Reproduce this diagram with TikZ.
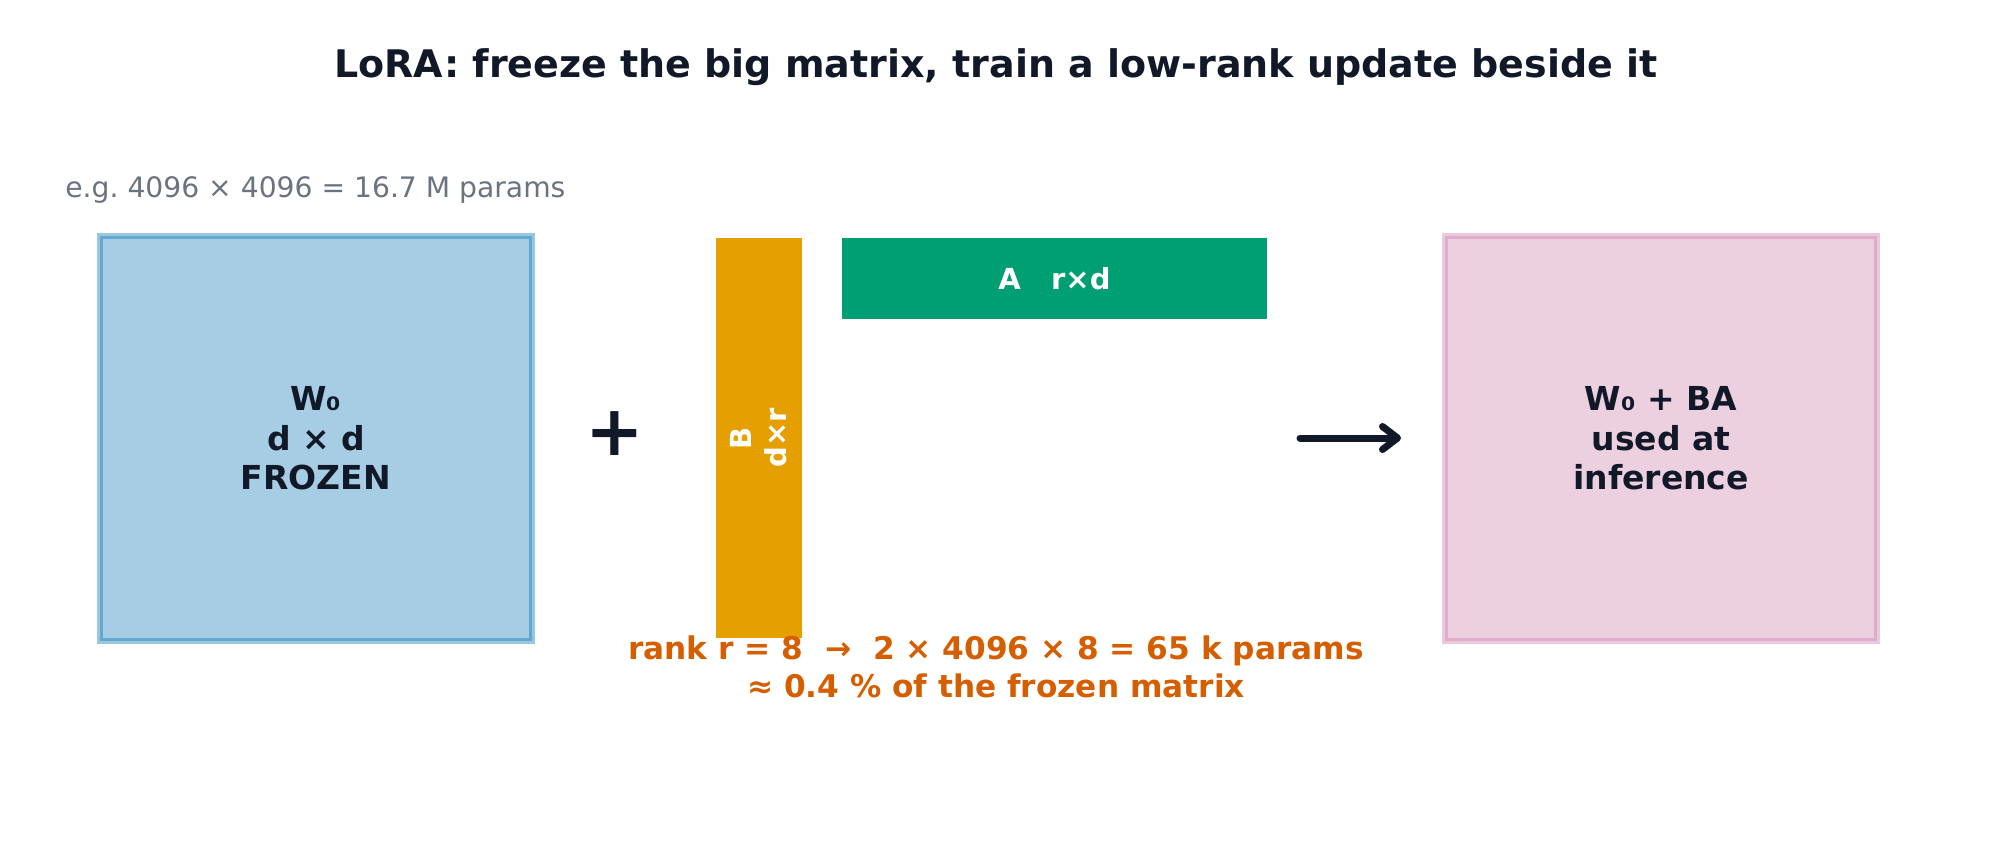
\documentclass[tikz,border=0pt]{standalone}
\usepackage{fontspec}
\setmainfont{DejaVu Sans}
\usetikzlibrary{arrows.meta}
\definecolor{ink}{HTML}{111827}
\definecolor{subgray}{HTML}{6B7280}
\definecolor{okorange}{HTML}{E69F00}
\definecolor{okgreen}{HTML}{009E73}
\definecolor{okverm}{HTML}{D55E00}
\definecolor{okblue}{HTML}{0072B2}
\definecolor{okpurple}{HTML}{CC79A7}
\definecolor{bluefill}{HTML}{A6CDE4}
\definecolor{pinkfill}{HTML}{EDD0E0}
\tikzset{
  bigbox/.style={rectangle, inner sep=0pt, minimum width=216pt, minimum height=202.5pt,
    line width=3pt, draw opacity=0.4, align=center, text=ink,
    font=\bfseries\fontsize{16.5pt}{19.8pt}\selectfont},
  lowrank/.style={rectangle, inner sep=0pt, text=white, align=center,
    font=\bfseries\fontsize{14.5pt}{17.4pt}\selectfont},
  conn/.style={draw=ink, line width=3.5pt, line cap=round,
    -{Straight Barb[length=7.5pt, width=11.5pt, line cap=round, line join=round]}},
}
\begin{document}
\frenchspacing
\begin{tikzpicture}[x=0.5pt, y=-0.5pt]
\useasboundingbox (0,0) rectangle (1992,862);
% title and subtitle
\node[anchor=base, text=ink, font=\bfseries\fontsize{19pt}{22.8pt}\selectfont, inner sep=0pt]
  (title) at (996,77) {LoRA: freeze the big matrix, train a low-rank update beside it};
\node[anchor=base west, text=subgray, font=\fontsize{14.1pt}{16.9pt}\selectfont, inner sep=0pt]
  (sub) at (65,197) {e.g. 4096 × 4096 = 16.7 M params};
% frozen matrix
\node[bigbox, fill=bluefill, draw=okblue] (W) at (316,438.5) {W₀\\d × d\\FROZEN};
% plus
\node[text=ink, font=\bfseries\fontsize{35pt}{40pt}\selectfont, inner sep=0pt] (plus) at (614.5,434) {+};
% low-rank factors
\node[lowrank, fill=okorange, minimum width=43pt, minimum height=200pt] (Bbar) at (759,438) {};
\node[lowrank, rotate=90] (Btxt) at (759,438) {B\\d×r};
\node[lowrank, fill=okgreen, minimum width=212.5pt, minimum height=40.5pt] (Abar) at (1054.5,278.5) {A~~~r×d};
% result
\node[bigbox, fill=pinkfill, draw=okpurple] (R) at (1661,438.5) {W₀ + BA\\used at\\inference};
% arrow
\coordinate (arrS) at (1300,438);
\coordinate (arrE) at (1401,438);
\draw[conn] (arrS) -- (arrE);
% note
\node[text=okverm, align=center, font=\bfseries\fontsize{15.6pt}{19pt}\selectfont, inner sep=0pt]
  (note) at (996,666.5) {rank r = 8\ \ →\ \ 2 × 4096 × 8 = 65 k params\\≈ 0.4 \% of the frozen matrix};
\end{tikzpicture}
\end{document}
